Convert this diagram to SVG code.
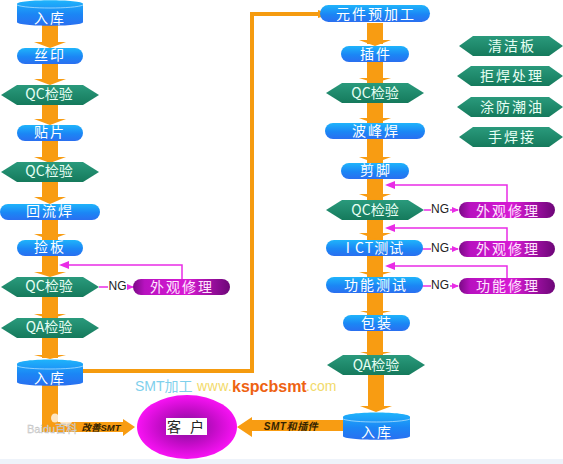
<svg xmlns="http://www.w3.org/2000/svg" width="563" height="464" viewBox="0 0 563 464">
<style>
text{font-family:"Noto Sans CJK SC","Liberation Sans",sans-serif;text-anchor:middle;dominant-baseline:central}
.w{fill:#fff;font-size:14px;letter-spacing:2px}
.wt{fill:#e8fff4;font-size:14px}
.wl{fill:#e8fff4;font-size:14px;letter-spacing:2px}
.m{fill:#ffe6ff;font-size:14px;letter-spacing:2px}
.ng{fill:#222;font-size:12px;font-family:"Liberation Sans",sans-serif}
.or{fill:#f89c12}
.ol{fill:none;stroke:#f59b0f;stroke-width:4}
.p{fill:none;stroke:#e92ce6;stroke-width:1.5}
.pa{fill:#e92ce6}
.it{font-family:"Liberation Sans","Noto Sans CJK SC",sans-serif;font-size:9.500px;font-style:italic;font-weight:bold;fill:#332200}
.u{text-anchor:start;font-family:"Liberation Sans","Noto Sans CJK SC",sans-serif;font-size:14px}
</style>
<defs>
<linearGradient id="b" x1="0" y1="0" x2="0" y2="1"><stop offset="0" stop-color="#1fb4fb"/><stop offset=".55" stop-color="#1b86f5"/><stop offset="1" stop-color="#2a6ff0"/></linearGradient>
<linearGradient id="g" x1="0" y1="0" x2="0" y2="1"><stop offset="0" stop-color="#2a9a7c"/><stop offset="1" stop-color="#157a5c"/></linearGradient>
<linearGradient id="v" x1="0" y1="0" x2="1" y2="0"><stop offset="0" stop-color="#7a0a85"/><stop offset=".12" stop-color="#b812c0"/><stop offset=".55" stop-color="#d81bd4"/><stop offset="1" stop-color="#6d0678"/></linearGradient>
<radialGradient id="c"><stop offset="0" stop-color="#7d0f96"/><stop offset=".55" stop-color="#c40cc8"/><stop offset="1" stop-color="#f812f4"/></radialGradient>
</defs>
<rect width="563" height="464" fill="#fff"/>
<rect y="459" width="563" height="5" fill="#eef3fa"/>
<g id="connectors">
<g class="or">
<rect x="42" y="24" width="16" height="20"/><polygon points="34,42 66,42 50,48"/>
<rect x="42" y="60" width="16" height="20"/><polygon points="34,79 66,79 50,85"/>
<rect x="42" y="104" width="16" height="16"/><polygon points="34,119 66,119 50,125"/>
<rect x="42" y="140" width="16" height="18"/><polygon points="34,157 66,157 50,163"/>
<rect x="42" y="182" width="16" height="16"/><polygon points="34,197 66,197 50,204"/>
<rect x="42" y="219" width="16" height="21"/><polygon points="34,234 66,234 50,240"/>
<rect x="42" y="256" width="16" height="18"/><polygon points="34,272 66,272 50,277"/>
<rect x="42" y="297" width="16" height="22"/><polygon points="34,314 66,314 50,319"/>
<rect x="42" y="338" width="16" height="20"/><polygon points="34,355 66,355 50,359"/>
<polygon points="42,385 58,385 58,422 123,422 123,419 135,427 123,436 123,432 42,432"/>
<rect x="367" y="23" width="16" height="21"/><polygon points="359,40 391,40 375,46"/>
<rect x="367" y="62" width="16" height="21"/><polygon points="359,78 391,78 375,83"/>
<rect x="367" y="103" width="16" height="20"/><polygon points="359,118 391,118 375,124"/>
<rect x="367" y="139" width="16" height="25"/><polygon points="359,157 391,157 375,163"/>
<rect x="367" y="178" width="16" height="22"/><polygon points="359,194 391,194 375,200"/>
<rect x="367" y="220" width="16" height="20"/><polygon points="359,233 391,233 375,239"/>
<rect x="367" y="256" width="16" height="21"/><polygon points="359,272 391,272 375,277"/>
<rect x="367" y="293" width="16" height="23"/><polygon points="360,311 391,311 375,315"/>
<rect x="367" y="331" width="16" height="26"/><polygon points="360,352 391,352 375,356"/>
<rect x="368" y="375" width="16" height="32"/><polygon points="360,406 392,406 376,412"/>
<polygon points="345,420 252,420 252,417 237,427 252,437 252,431 345,431"/>
</g>
<path class="ol" d="M82,371H252V14H318"/>
<polygon class="or" points="318,10 331,14 318,18"/>
<path class="p" d="M182,280V265H67"/><polygon class="pa" points="59,265 69,261 69,269"/>
<path class="p" d="M99,287H133"/><polygon class="pa" points="134,287 127,284 127,290"/>
<path class="p" d="M507,204V185H393"/><polygon class="pa" points="385,185 395,181 395,189"/>
<path class="p" d="M507,242V228H393"/><polygon class="pa" points="385,228 395,224 395,232"/>
<path class="p" d="M507,278V266H393"/><polygon class="pa" points="385,266 395,262 395,270"/>
<path class="p" d="M424,210H458"/><polygon class="pa" points="459,210 452,207 452,213"/>
<path class="p" d="M422,249H458"/><polygon class="pa" points="459,249 452,246 452,252"/>
<path class="p" d="M422,286H458"/><polygon class="pa" points="459,286 452,283 452,289"/>
<rect x="108" y="281" width="19" height="12" fill="#fff"/><text class="ng" x="117.500" y="286">NG</text>
<rect x="431" y="204" width="19" height="12" fill="#fff"/><text class="ng" x="440" y="209">NG</text>
<rect x="431" y="243" width="19" height="12" fill="#fff"/><text class="ng" x="440" y="248">NG</text>
<rect x="431" y="280" width="19" height="12" fill="#fff"/><text class="ng" x="440" y="285">NG</text>
<text class="it" x="101" y="427">改善SMT</text>
<text class="it" x="291" y="426" style="font-size:10px;letter-spacing:.6px">SMT和插件</text>
</g>
<g id="n1"><path d="M17,4C17,-1 83,-1 83,4V22C83,27 17,27 17,22Z" fill="url(#b)"/><path d="M17,5C25,9 75,9 83,5" fill="none" stroke="#bfe6ff" stroke-width=".7"/><text class="w" x="50" y="17">入库</text></g>
<g id="n2"><rect x="17" y="48" width="66" height="16" rx="8" fill="url(#b)"/><text class="w" x="50" y="54">丝印</text></g>
<g id="n3"><polygon points="1,95 17,85 83,85 99,95 83,105 17,105" fill="url(#g)"/><text class="wt" x="49" y="93">QC检验</text></g>
<g id="n4"><rect x="17" y="125" width="66" height="16" rx="8" fill="url(#b)"/><text class="w" x="50" y="131">贴片</text></g>
<g id="n5"><polygon points="1,172 17,162 83,162 99,172 83,182 17,182" fill="url(#g)"/><text class="wt" x="49" y="170">QC检验</text></g>
<g id="n6"><rect x="0" y="204" width="100" height="16" rx="8" fill="url(#b)"/><text class="w" x="50" y="210">回流焊</text></g>
<g id="n7"><rect x="17" y="240" width="66" height="16" rx="8" fill="url(#b)"/><text class="w" x="50" y="246">捡板</text></g>
<g id="n8"><polygon points="1,287 17,277 83,277 99,287 83,297 17,297" fill="url(#g)"/><text class="wt" x="49" y="285">QC检验</text></g>
<g id="n9"><rect x="133" y="279" width="97" height="16" rx="8" fill="url(#v)"/><text class="m" x="182" y="286">外观修理</text></g>
<g id="n10"><polygon points="1,328 17,318 83,318 99,328 83,338 17,338" fill="url(#g)"/><text class="wt" x="49" y="326">QA检验</text></g>
<g id="n11"><path d="M17,364C17,358 83,358 83,364V382C83,387 17,387 17,382Z" fill="url(#b)"/><path d="M17,366C25,370 75,370 83,366" fill="none" stroke="#bfe6ff" stroke-width=".7"/><text class="w" x="50" y="377">入库</text></g>
<g id="n12"><ellipse cx="187" cy="427" rx="50" ry="32" fill="url(#c)"/><rect x="166" y="418" width="41" height="17" fill="#fff"/><text x="187" y="426" font-size="14" fill="#222" style="letter-spacing:3px">客 户</text></g>
<g id="n13"><rect x="320" y="5" width="110" height="17" rx="8.500" fill="url(#b)"/><text class="w" x="376" y="13">元件预加工</text></g>
<g id="n14"><rect x="341" y="46" width="68" height="16" rx="8" fill="url(#b)"/><text class="w" x="376" y="53">插件</text></g>
<g id="n15"><polygon points="326,93 342,83 408,83 424,93 408,103 342,103" fill="url(#g)"/><text class="wt" x="375" y="92">QC检验</text></g>
<g id="n16"><rect x="325" y="123" width="100" height="16" rx="8" fill="url(#b)"/><text class="w" x="376" y="130">波峰焊</text></g>
<g id="n17"><rect x="341" y="163" width="68" height="16" rx="8" fill="url(#b)"/><text class="w" x="376" y="169">剪脚</text></g>
<g id="n18"><polygon points="326,210 342,200 408,200 424,210 408,220 342,220" fill="url(#g)"/><text class="wt" x="375" y="209">QC检验</text></g>
<g id="n19"><rect x="326" y="240" width="97" height="16" rx="8" fill="url(#b)"/><text class="w" x="375" y="247" style="letter-spacing:1px">I CT测试</text></g>
<g id="n20"><rect x="326" y="277" width="97" height="16" rx="8" fill="url(#b)"/><text class="w" x="376" y="284">功能测试</text></g>
<g id="n21"><rect x="343" y="315" width="67" height="16" rx="8" fill="url(#b)"/><text class="w" x="377" y="322">包装</text></g>
<g id="n22"><polygon points="327,365 343,355 409,355 425,365 409,375 343,375" fill="url(#g)"/><text class="wt" x="376" y="364">QA检验</text></g>
<g id="n23"><path d="M343,417C343,411 410,411 410,417V436C410,441 343,441 343,436Z" fill="url(#b)"/><path d="M343,419C352,423 401,423 410,419" fill="none" stroke="#bfe6ff" stroke-width=".7"/><text class="w" x="377" y="431">入库</text></g>
<g id="n24"><rect x="459" y="202" width="96" height="16" rx="8" fill="url(#v)"/><text class="m" x="508" y="210">外观修理</text></g>
<g id="n25"><rect x="459" y="241" width="96" height="16" rx="8" fill="url(#v)"/><text class="m" x="508" y="248">外观修理</text></g>
<g id="n26"><rect x="459" y="278" width="96" height="16" rx="8" fill="url(#v)"/><text class="m" x="508" y="285">功能修理</text></g>
<g id="n27"><polygon points="459,46 473,36 549,36 563,46 549,56 473,56" fill="url(#g)"/><text class="wl" x="512" y="45">清洁板</text></g>
<g id="n28"><polygon points="457,76 471,66 549,66 563,76 549,86 471,86" fill="url(#g)"/><text class="wl" x="512" y="75">拒焊处理</text></g>
<g id="n29"><polygon points="457,107 471,97 549,97 563,107 549,117 471,117" fill="url(#g)"/><text class="wl" x="512" y="106">涂防潮油</text></g>
<g id="n30"><polygon points="459,137 473,127 549,127 563,137 549,147 473,147" fill="url(#g)"/><text class="wl" x="512" y="136">手焊接</text></g>
<text class="u" x="135" y="386" fill="#7fd0ec">SMT加工</text>
<text class="u" x="197" y="386" fill="#f2da6a" style="letter-spacing:.5px">www.</text>
<text class="u" x="232" y="386" fill="#ee6212" font-weight="bold" style="font-size:16px">kspcbsmt</text>
<text class="u" x="306" y="386" fill="#f2da6a">.com</text>
<g fill="#fff" fill-opacity=".75"><ellipse cx="55" cy="418" rx="4" ry="4.500"/><ellipse cx="62" cy="411" rx="2" ry="3"/><ellipse cx="68" cy="410" rx="2" ry="3"/><ellipse cx="66" cy="421" rx="6" ry="5"/></g>
<text class="u" x="27" y="429" style="font-size:11px" fill="#ddd" stroke="#bbb" stroke-width=".3">Baidu百科</text>
</svg>
